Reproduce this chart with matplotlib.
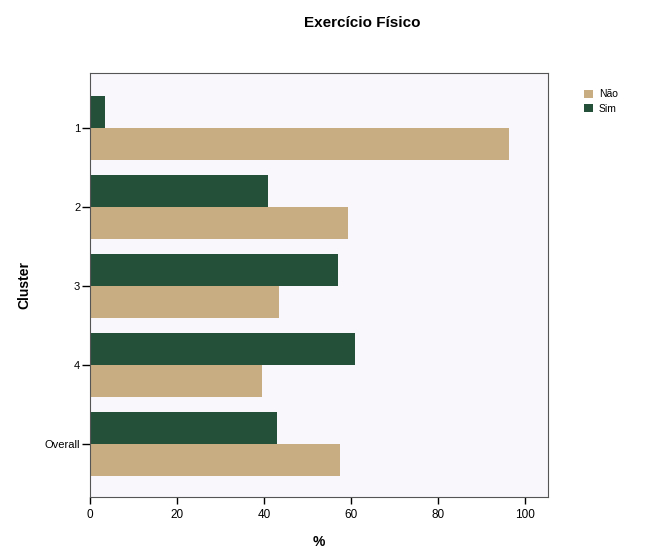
import numpy as np
import matplotlib
matplotlib.use("Agg")
import matplotlib.pyplot as plt

clusters = ["1", "2", "3", "4", "Overall"]
sim = [3.5, 41.0, 56.9, 60.9, 43.0]
nao = [96.2, 59.2, 43.3, 39.4, 57.5]

plt.rcParams['font.family'] = ['Liberation Sans', 'DejaVu Sans']

fig = plt.figure(figsize=(6.56, 5.49), dpi=100)
ax = fig.add_axes([90/656, 1-497/549, (548-90)/656, (497-73)/549])
ax.set_facecolor("#f9f7fc")

pos = np.arange(1, len(clusters) + 1)
h = 0.405
ax.barh(pos - h/2, sim, height=h, color="#24503a", label="Sim")
ax.barh(pos + h/2, nao, height=h, color="#c8ad82", label="Não")

ax.set_xlim(0, 105.2)
ax.set_ylim(5.67, 0.3)
ax.set_yticks(pos)
ax.set_yticklabels(clusters, fontsize=8)
ax.set_xticks([0, 20, 40, 60, 80, 100])
ax.tick_params(axis='x', labelsize=8.5, length=5, width=1, pad=4)
ax.tick_params(axis='y', length=6, width=1, pad=1)
for s in ax.spines.values():
    s.set_color("#555555")
    s.set_linewidth(0.8)

ax.set_xlabel("%", fontsize=10, fontweight='bold', labelpad=10)
ax.set_ylabel("Cluster", fontsize=10, fontweight='bold', labelpad=10)
fig.text(362/656, 1-23/549, "Exercício Físico", ha='center', va='center',
         fontsize=11, fontweight='bold')

handles, labels = ax.get_legend_handles_labels()
fig.legend(handles[::-1], labels[::-1], loc='upper left',
           bbox_to_anchor=(575/656, 1-80/549), frameon=False, fontsize=7.5,
           handlelength=0.8, handleheight=0.8, handletextpad=0.6,
           labelspacing=0.4)

fig.savefig("out.png", dpi=100)
